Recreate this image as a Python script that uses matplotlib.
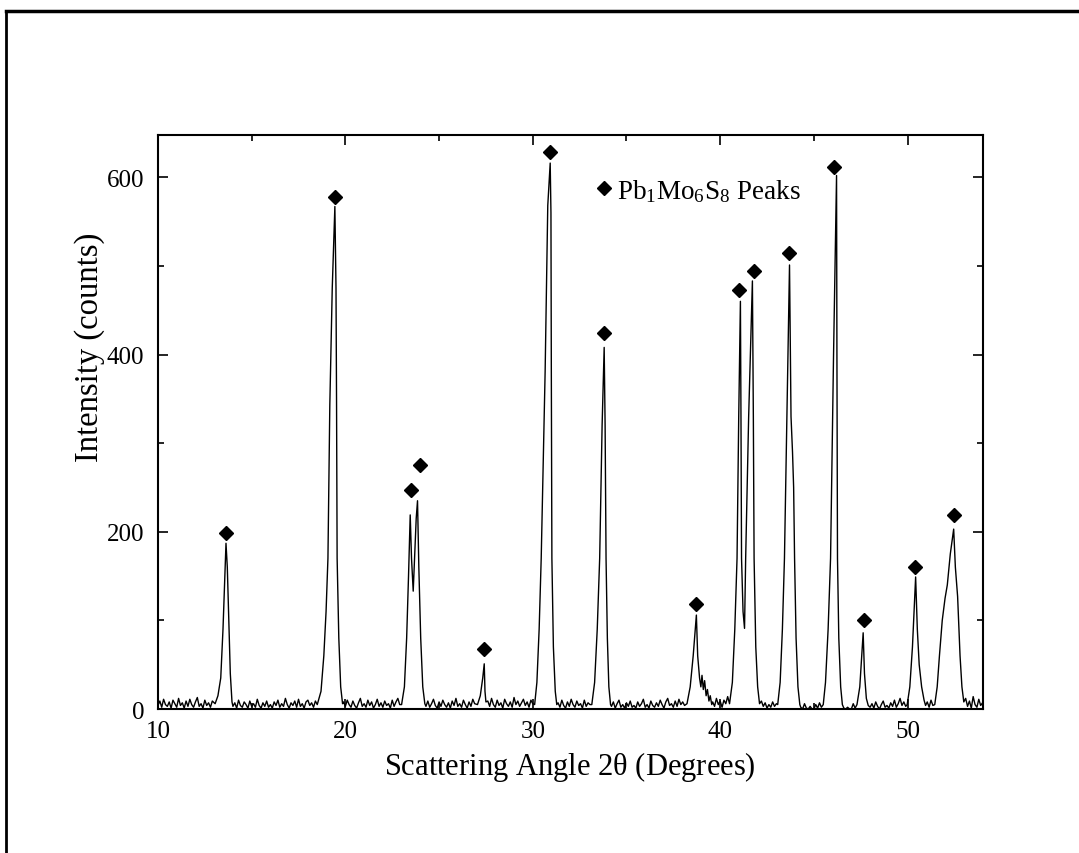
import numpy as np
import matplotlib
matplotlib.use("Agg")
import matplotlib.pyplot as plt
from matplotlib.lines import Line2D
from matplotlib.ticker import MultipleLocator

plt.rcParams['font.family'] = ['Liberation Serif', 'DejaVu Serif']
plt.rcParams['mathtext.fontset'] = 'custom'
plt.rcParams['mathtext.rm'] = 'Liberation Serif'
plt.rcParams['mathtext.it'] = 'Liberation Serif:italic'

# background noise, scan step 0.1 deg: start angle + counts
noise_start = [10.0, 14.0, 19.9, 24.3, 27.6, 31.35, 34.2, 39.6, 42.2, 44.3, 46.6, 48.0, 51.05, 53.1]
noise_vals = [
    [4, 9, 2, 11, 5, 3, 8, 1, 10, 6, 2, 12, 4, 7, 1, 9, 3, 11, 5, 2, 8, 13, 3, 6, 1, 10, 4, 7, 2, 9],
    [3, 7, 1, 10, 4, 2, 8, 5, 1, 9, 3, 6, 2, 11, 4, 1, 7, 3, 9, 2, 5, 1, 8, 4, 10, 2, 6, 3, 12, 5,
     1, 7, 4, 9, 2, 11, 3, 6, 1, 8, 10, 4, 7, 2, 9],
    [8, 3, 10, 5, 2, 9, 4, 1, 7, 12, 3, 6, 2, 10, 4, 8, 1, 5, 11, 3, 7, 2, 9, 4, 6, 1, 10, 3, 8, 12, 5],
    [3, 9, 2, 6, 11, 4, 1, 8, 3, 10, 5, 2, 7, 1, 9, 4, 12, 3, 6, 2, 10, 5, 1, 8, 3, 11, 6],
    [9, 3, 12, 5, 2, 10, 4, 7, 1, 11, 6, 3, 8, 2, 13, 5, 9, 3, 7, 11, 4, 8, 2, 10, 6],
    [7, 2, 10, 4, 1, 8, 3, 11, 5, 2, 9, 4, 6, 1, 10, 3, 7, 5],
    [3, 8, 1, 6, 10, 2, 5, 1, 7, 3, 9, 2, 4, 1, 8, 3, 6, 11, 2, 5, 1, 9, 4, 2, 7, 3, 10, 5, 1, 8,
     12, 4, 6, 2, 9, 3, 11, 5, 8, 4],
    [8, 3, 12, 5, 9, 2, 10, 6, 14],
    [9, 3, 7, 1, 5, 2, 8, 3, 6],
    [2, 0, 6, 1, 0, 3, 0, 0, 5, 1, 7, 2],
    [1, 0, 2, 0, 0, 6, 1],
    [2, 6, 1, 8, 3, 0, 5, 9, 2, 4, 1, 7, 3, 10, 2, 6, 12, 4, 8, 3],
    [8, 2, 10, 4],
    [12, 3, 9, 1, 14, 5, 2, 11, 4, 7],
]

# peak profiles (2theta, counts)
peak_x = [
    [13.05, 13.2, 13.35, 13.47, 13.57, 13.63, 13.7, 13.78, 13.86, 13.95],
    [18.5, 18.7, 18.85, 18.97, 19.07, 19.17, 19.3, 19.44, 19.5, 19.53, 19.56, 19.65, 19.75, 19.85],
    [23.0, 23.15, 23.27, 23.37, 23.46, 23.53, 23.62, 23.7, 23.78, 23.85, 23.92, 24.02, 24.13, 24.24],
    [27.05, 27.2, 27.33, 27.41, 27.45, 27.5],
    [30.1, 30.22, 30.34, 30.45, 30.66, 30.8, 30.93, 30.97, 30.99, 31.02, 31.1, 31.2, 31.28],
    [33.15, 33.3, 33.44, 33.57, 33.7, 33.81, 33.86, 33.91, 33.98, 34.06, 34.15],
    [38.23, 38.4, 38.56, 38.73, 38.8, 38.9, 38.97, 39.03, 39.1, 39.17, 39.25, 39.32, 39.4, 39.47, 39.55],
    [40.5, 40.65, 40.78, 40.9, 40.99, 41.08, 41.11, 41.14, 41.22, 41.3, 41.36, 41.52, 41.72, 41.77,
     41.81, 41.9, 42.0, 42.1],
    [43.07, 43.2, 43.32, 43.43, 43.56, 43.7, 43.78, 43.86, 43.92, 43.97, 44.05, 44.15, 44.25],
    [45.5, 45.62, 45.76, 45.89, 46.05, 46.21, 46.23, 46.26, 46.33, 46.43, 46.52],
    [47.3, 47.45, 47.63, 47.7, 47.8, 47.9],
    [49.98, 50.12, 50.26, 50.43, 50.52, 50.62, 50.75, 50.88, 50.96],
    [51.45, 51.58, 51.7, 51.85, 52.0, 52.12, 52.28, 52.46, 52.55, 52.67, 52.8, 52.9, 53.0],
]
peak_y = [
    [6, 15, 35, 90, 150, 187, 160, 100, 40, 8],
    [5, 20, 60, 110, 170, 343, 475, 567, 475, 343, 170, 80, 25, 6],
    [5, 25, 80, 150, 219, 170, 133, 175, 215, 235, 160, 80, 25, 6],
    [5, 15, 35, 51, 20, 8],
    [5, 30, 90, 170, 381, 568, 616, 560, 381, 170, 70, 20, 5],
    [5, 30, 90, 170, 320, 408, 320, 170, 80, 25, 5],
    [6, 25, 60, 106, 60, 35, 25, 38, 22, 32, 15, 22, 9, 15, 5],
    [6, 30, 90, 170, 330, 460, 330, 170, 110, 91, 170, 330, 483, 330, 170, 70, 25, 6],
    [5, 30, 90, 170, 330, 501, 330, 290, 250, 170, 80, 25, 5],
    [5, 30, 90, 170, 400, 602, 400, 170, 80, 25, 5],
    [5, 25, 86, 40, 12, 4],
    [5, 25, 70, 149, 90, 50, 25, 10, 4],
    [5, 25, 60, 100, 125, 140, 175, 203, 160, 127, 60, 25, 8],
]

# marked Pb1Mo6S8 reflections
mark_x = [13.63, 19.44, 23.50, 23.98, 27.41, 30.93, 33.82, 38.73, 40.99, 41.83, 43.65, 46.10, 47.65, 50.37, 52.46]
mark_y = [199, 578, 247, 275, 68, 629, 424, 118, 473, 494, 515, 612, 100, 160, 219]

# build the scan
xs, ys = [], []
for start, vals in zip(noise_start, noise_vals):
    xs += list(start + 0.1 * np.arange(len(vals)))
    ys += vals
for px, py in zip(peak_x, peak_y):
    xs += px
    ys += py
order = np.argsort(xs)
two_theta = np.array(xs)[order]
counts = np.array(ys)[order]

fig = plt.figure(figsize=(10.79, 8.54), dpi=100)
ax = fig.add_axes([0.1464, 0.1686, 0.7642, 0.6725])

ax.plot(two_theta, counts, color='black', lw=1.0)
ax.plot(mark_x, mark_y, linestyle='none', marker='D', color='black', ms=7.5,
        label=r'Pb$_\mathrm{1}$Mo$_\mathrm{6}$S$_\mathrm{8}$ Peaks')

ax.set_xlim(10, 54)
ax.set_ylim(0, 648)
ax.xaxis.set_major_locator(MultipleLocator(10))
ax.xaxis.set_minor_locator(MultipleLocator(5))
ax.yaxis.set_major_locator(MultipleLocator(200))
ax.yaxis.set_minor_locator(MultipleLocator(100))
ax.tick_params(which='both', direction='in', top=True, right=True, labelsize=18, width=1.2)
ax.tick_params(which='major', length=7)
ax.tick_params(which='minor', length=4)
ax.tick_params(axis='x', pad=8)
ax.tick_params(axis='y', pad=10)
for s in ax.spines.values():
    s.set_linewidth(1.5)

ax.set_xlabel(r'Scattering Angle 2$\mathrm{\theta}$ (Degrees)', fontsize=22, labelpad=5)
ax.set_ylabel('Intensity (counts)', fontsize=23.5)
ax.yaxis.set_label_coords(-0.064, 0.632)

ax.legend(loc='center left', bbox_to_anchor=(0.531, 0.903), frameon=False, fontsize=19.5,
          handlelength=0.6, handletextpad=0.2, borderpad=0, borderaxespad=0)

# page frame of the scanned figure
fig.add_artist(Line2D([0.0055, 0.0055], [0.0, 0.986], color='black', lw=2.0))
fig.add_artist(Line2D([0.0055, 1.0], [0.986, 0.986], color='black', lw=2.5))

fig.savefig('out.png', dpi=100)
